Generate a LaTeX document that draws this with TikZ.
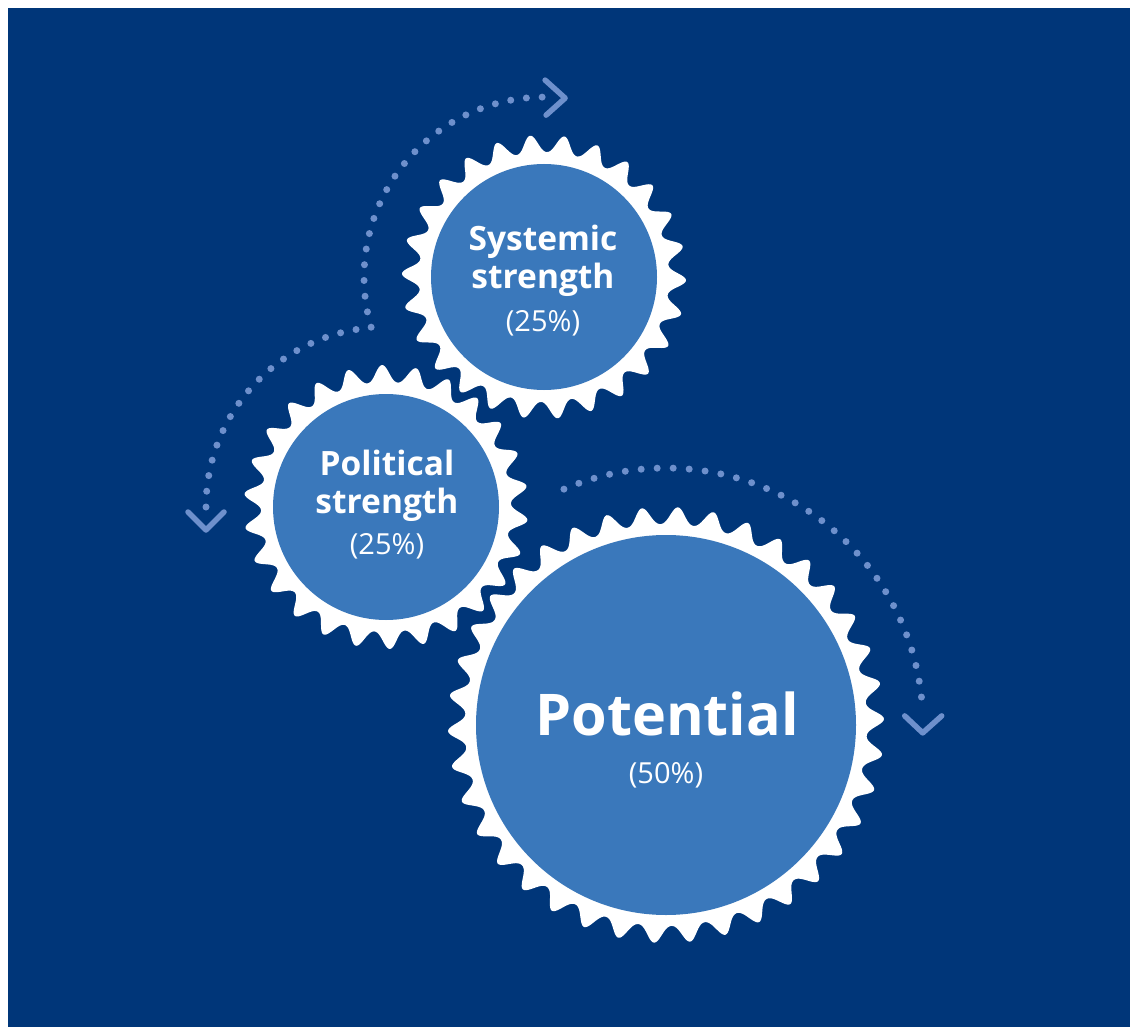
\documentclass[tikz,border=0pt]{standalone}
\usepackage{fontspec}
\setmainfont{Open Sans}
\definecolor{bgblue}{RGB}{0,54,121}
\definecolor{hubblue}{RGB}{58,120,187}
\definecolor{dotblue}{RGB}{110,144,204}
% #1,#2 centre; #3 teeth; #4 phase of the first tip (deg); #5 root radius; #6 tooth height; #7 samples
\newcommand{\drawgear}[7]{%
  \fill[gear] plot[domain=0:360, samples=#7, variable=\q]
    ({#1+toothr(\q,#3,#4,#5,#6)*cos(\q)}, {#2+toothr(\q,#3,#4,#5,#6)*sin(\q)}) -- cycle;}
\begin{document}
\begin{tikzpicture}[x=1pt, y=-1pt,
  declare function={
    toothc(\q,\n,\p)=(1+cos(\n*(\q-\p)))/2;
    toothr(\q,\n,\p,\r,\h)=\r+\h*(0.6*toothc(\q,\n,\p)+0.4*toothc(\q,\n,\p)*toothc(\q,\n,\p));},
  gear/.style={fill=white},
  hub/.style={circle, fill=hubblue, inner sep=0pt, minimum size=#1},
  dotline/.style={draw=dotblue, line width=7pt, line cap=round, dash pattern=on 0pt off #1},
  chevron/.style={draw=dotblue, line width=5.5pt, line cap=round, line join=round},
  headline/.style={text=white, anchor=base, inner sep=0pt, font=\bfseries\fontsize{33.5}{33.5}\selectfont},
  share/.style={text=white, anchor=base, inner sep=0pt, font=\fontsize{29}{29}\selectfont}]

% page and background panel
\useasboundingbox (0,0) rectangle (1130,1027);
\fill[white] (0,0) rectangle (1130,1027);
\fill[bgblue] (8,8) rectangle (1130,1027);

% gear bodies
\drawgear{544}{277}{26}{1.35}{125}{17}{625}
\drawgear{386}{507}{26}{-8.5}{125}{17}{625}
\drawgear{666}{725}{38}{-1.6}{201}{17}{913}

% hubs
\node[hub=226pt] (syshub) at (544,277) {};
\node[hub=226pt] (polhub) at (386,507) {};
\node[hub=380pt] (pothub) at (666,725) {};

% labels
\node[headline] (sysA) at (543,251) {Systemic};
\node[headline] (sysB) at (543,288) {strength};
\node[share]    (sysC) at (543,331) {(25\%)};

\node[headline] (polA) at (387,475) {Political};
\node[headline] (polB) at (387,513) {strength};
\node[share]    (polC) at (387,554) {(25\%)};

\node[text=white, anchor=base, inner sep=0pt, font=\bfseries\fontsize{57.5}{57.5}\selectfont] (potA) at (667,735) {Potential};
\node[share]    (potC) at (666,783) {(50\%)};

% dotted rotation paths
\coordinate (leftend) at (206,507);
\draw[dotline=15.79pt] (leftend) arc[start angle=180, end angle=265.3, radius=180]
  arc[start angle=163.7, end angle=269.4, radius=180] coordinate (topend);
\coordinate (rightstart) at ({666+257*cos(246.6)},{725+257*sin(246.6)});
\draw[dotline=16.02pt] (rightstart) arc[start angle=246.6, end angle=357.3, radius=257] coordinate (rightend);

% chevrons
\draw[chevron] (leftend) ++(-18,5) -- ++(18,18) -- ++(18,-18);
\draw[chevron] (topend) ++(3,-17) -- ++(20,18) -- ++(-19,17);
\draw[chevron] (rightend) ++(-18,3) -- ++(18,17) -- ++(19,-17);
\end{tikzpicture}
\end{document}
